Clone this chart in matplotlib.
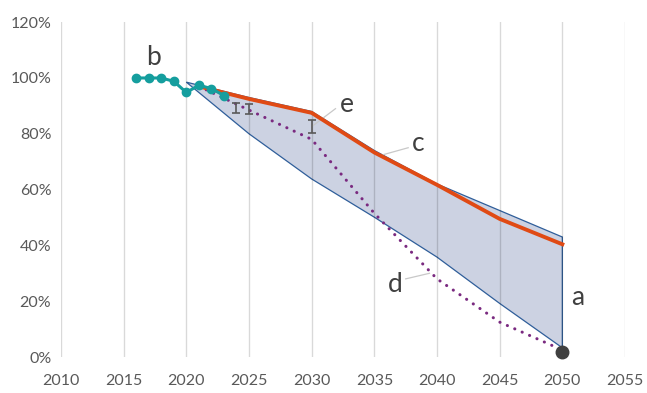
import matplotlib
matplotlib.use("Agg")
import matplotlib.pyplot as plt
from matplotlib.ticker import FuncFormatter

plt.rcParams['font.family'] = ['Lato', 'DejaVu Sans']

# Historical index (b)
hist_years = [2016, 2017, 2018, 2019, 2020, 2021, 2022, 2023]
hist_vals = [100, 100, 100, 98.8, 94.8, 97.4, 96.2, 93.7]

# Target corridor (c band)
band_years = [2020, 2025, 2030, 2035, 2040, 2045, 2050]
band_upper = [98.5, 93.0, 88.0, 74.0, 62.0, 52.5, 43.0]
band_lower = [98.5, 80.0, 63.8, 50.1, 35.8, 19.2, 3.3]

# Projected path (e)
proj_years = [2021, 2025, 2030, 2035, 2040, 2045, 2050]
proj_vals = [97.0, 92.5, 87.5, 73.3, 61.7, 49.5, 40.4]

# Ambitious pathway (d)
amb_years = [2021, 2025, 2030, 2035, 2040, 2045, 2050]
amb_vals = [97.0, 88.5, 78.0, 51.5, 28.0, 12.5, 2.5]

# Intermediate milestones with ranges
ms_years = [2024, 2025, 2030]
ms_vals = [89.4, 88.8, 82.5]
ms_err = [1.8, 1.8, 2.4]

# End point (a)
end_year = [2050]
end_val = [1.8]

txt = '#595959'
fig = plt.figure(figsize=(6.47, 3.93), dpi=100)
ax = fig.add_axes([0.0943, 0.0916, 0.8717, 0.852])
ax.set_xlim(2010, 2055)
ax.set_ylim(0, 120)

for s in ax.spines.values():
    s.set_visible(False)
ax.set_xticks(range(2010, 2056, 5))
ax.set_yticks(range(0, 121, 20))
ax.yaxis.set_major_formatter(FuncFormatter(lambda v, p: f"{int(v)}%"))
ax.tick_params(length=0, labelsize=11.5, colors=txt)
ax.tick_params(axis='x', pad=12)
ax.tick_params(axis='y', pad=7)
ax.grid(axis='x', color='black', alpha=0.15, lw=1, zorder=3)
ax.grid(axis='y', visible=False)
ax.set_axisbelow(False)

# corridor polygon
poly_x = band_years + band_years[::-1]
poly_y = band_upper + band_lower[::-1]
ax.fill(poly_x, poly_y, facecolor='#ccd2e2', edgecolor='#2f5e9a', lw=0.9, zorder=2)

ax.plot(amb_years, amb_vals, color='#7a2a80', lw=2.2, ls=(0, (0.05, 2.6)),
        dash_capstyle='round', zorder=4)
ax.plot(proj_years, proj_vals, color='#e04a14', lw=2.8, zorder=5)
ax.plot(hist_years, hist_vals, color='#159e9e', lw=2.2, marker='o', ms=6, zorder=6)
ax.errorbar(ms_years, ms_vals, yerr=ms_err, fmt='none', ecolor='#595959',
            elinewidth=1.2, capsize=3, capthick=1.2, zorder=6)
ax.plot(end_year, end_val, 'o', color='#404040', ms=9, zorder=7, clip_on=False)

# labels with leader lines
lab = dict(fontsize=19, color='#404040', ha='center', va='center')
ax.text(2017.4, 107.5, 'b', **lab)
ax.text(2032.8, 90.5, 'e', **lab)
ax.text(2038.5, 76.5, 'c', **lab)
ax.text(2036.7, 26.0, 'd', **lab)
ax.text(2051.2, 21.5, 'a', **lab)
lc = dict(color='#c8c8c8', lw=0.9, zorder=4)
ax.plot([2031.9, 2030.1], [89.0, 82.9], **lc)
ax.plot([2037.7, 2035.7], [75.0, 72.5], **lc)
ax.plot([2037.5, 2039.4], [28.0, 30.0], **lc)

fig.savefig('out.png', dpi=100)
